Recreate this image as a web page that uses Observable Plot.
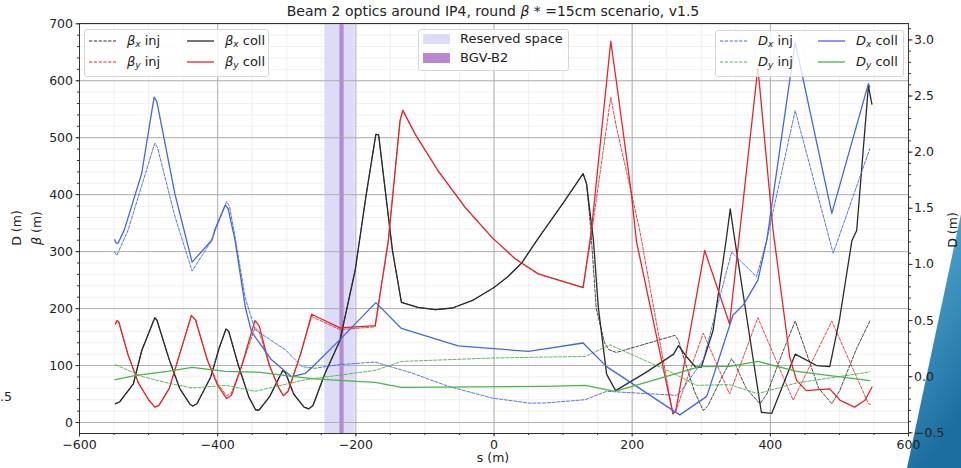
<!DOCTYPE html>
<html><head><meta charset="utf-8">
<script src="https://cdn.jsdelivr.net/npm/d3@7"></script>
<script src="https://cdn.jsdelivr.net/npm/@observablehq/plot@0.6"></script>
<style>
body{margin:0;background:#fff;font-family:"DejaVu Sans",sans-serif;color:#222;}
#wrap{position:relative;width:961px;height:468px;overflow:hidden;}
#deco{position:absolute;left:0;top:0;}
#chart{position:absolute;left:0;top:0;}
.t{position:absolute;font-size:13px;line-height:15px;white-space:nowrap;}
.rot{position:absolute;font-size:12.5px;line-height:14px;white-space:nowrap;transform-origin:center center;transform:translate(-50%,-50%) rotate(-90deg);}
.leg{position:absolute;background:rgba(255,255,255,0.8);border:1px solid #d6d6d6;border-radius:3px;box-sizing:border-box;}
sub{font-size:9px;vertical-align:-2px;line-height:0;}
</style></head>
<body><div id="wrap">
<svg id="deco" width="961" height="468"><defs><linearGradient id="g" x1="0" y1="0" x2="0.3" y2="1"><stop offset="0" stop-color="#5cb6da"/><stop offset="1" stop-color="#1d6ea0"/></linearGradient></defs><polygon points="961,214 961,468 907,468" fill="url(#g)"/></svg>
<div id="chart"></div>
</div>
<script>
// ---- data (s in m, beta in m, D in m) ----
const betaXColl = [[-548,33],[-542,36],[-522,68],[-510,126],[-491,184],[-488,180],[-470,110],[-455,60],[-440,32],[-436,29],[-430,33],[-410,80],[-398,130],[-388,164],[-384,160],[-370,100],[-355,45],[-345,22],[-340,22],[-325,45],[-306,91],[-302,88],[-290,50],[-275,27],[-268,24],[-262,30],[-245,85],[-223,144],[-201,267],[-185,400],[-171,506],[-167,505],[-147,302],[-134,211],[-110,202],[-85,198],[-60,201],[-30,215],[0,237],[20,256],[40,280],[65,325],[100,385],[129,437],[134,419],[144,319],[151,202],[163,85],[176,56],[220,88],[260,120],[267,135],[279,115],[292,97],[300,97],[317,161],[336,320],[342,375],[347,333],[387,18],[402,16],[436,120],[467,100],[486,98],[500,180],[518,319],[525,337],[542,591],[547,559]];
const betaXInjTail = [[134,419],[140,340],[148,200],[160,140],[166,128],[177,123],[262,153],[267,144],[279,97],[290,55],[303,21],[310,30],[330,80],[344,112],[350,100],[365,60],[385,33],[395,50],[420,130],[436,178],[450,130],[470,60],[489,33],[500,55],[525,130],[544,178]];
const betaYColl = [[-548,173],[-546,179],[-543,176],[-530,120],[-515,70],[-500,40],[-491,27],[-485,30],[-470,60],[-455,120],[-438,188],[-432,180],[-415,110],[-400,65],[-387,42],[-380,48],[-365,100],[-346,179],[-340,170],[-325,100],[-312,62],[-305,47],[-298,55],[-280,120],[-264,190],[-223,166],[-172,170],[-153,319],[-136,530],[-132,548],[-114,506],[-81,442],[-42,378],[-3,325],[30,288],[64,261],[129,237],[141,337],[169,669],[177,600],[199,401],[206,319],[259,15],[263,20],[305,302],[341,173],[382,623],[404,337],[428,115],[438,74],[452,56],[486,59],[501,39],[522,27],[537,39],[547,62]];
const betaYInj = [[-548,173],[-546,179],[-543,176],[-530,120],[-515,70],[-500,40],[-491,27],[-485,30],[-470,60],[-455,120],[-438,188],[-432,180],[-415,110],[-400,68],[-387,47],[-380,52],[-365,100],[-346,167],[-340,160],[-325,100],[-312,62],[-305,47],[-298,55],[-280,120],[-264,186],[-223,163],[-172,168],[-153,319],[-136,530],[-132,548],[-114,506],[-81,442],[-42,378],[-3,325],[30,288],[64,261],[129,237],[141,330],[169,571],[177,520],[211,337],[259,15],[263,20],[303,157],[341,50],[382,184],[433,39],[489,178],[542,33],[545,32]];
const dxColl = [[-549,1.22],[-547,1.19],[-544,1.19],[-535,1.31],[-510,1.81],[-492,2.49],[-488,2.45],[-462,1.63],[-437,1.02],[-408,1.22],[-404,1.31],[-389,1.53],[-385,1.50],[-375,1.22],[-360,0.62],[-351,0.40],[-322,0.15],[-293,0.0],[-273,0.03],[-264,0.08],[-223,0.33],[-171,0.66],[-134,0.43],[-52,0.275],[50,0.225],[129,0.30],[163,0.09],[264,-0.32],[269,-0.34],[308,-0.175],[346,0.55],[361,0.64],[382,0.86],[395,1.22],[436,2.98],[489,1.455],[542,2.61],[544,2.58]];
const dxInj = [[-549,1.11],[-546,1.08],[-530,1.3],[-510,1.7],[-491,2.08],[-487,2.04],[-462,1.43],[-437,0.94],[-410,1.2],[-387,1.56],[-383,1.52],[-375,1.25],[-360,0.7],[-346,0.42],[-317,0.30],[-302,0.24],[-278,0.09],[-259,0.075],[-225,0.107],[-172,0.13],[-119,0.033],[-66,-0.086],[-3,-0.19],[52,-0.236],[74,-0.234],[132,-0.205],[163,-0.13],[264,-0.166],[272,-0.12],[303,0.15],[344,1.11],[380,0.89],[395,1.22],[436,2.37],[491,1.10],[544,2.03]];
const dyColl = [[-548,-0.027],[-520,0.01],[-470,0.05],[-437,0.083],[-389,0.047],[-341,0.04],[-293,0.003],[-259,-0.02],[-225,-0.033],[-172,-0.05],[-134,-0.095],[74,-0.086],[132,-0.077],[175,-0.13],[250,0.003],[298,0.09],[341,0.092],[382,0.136],[438,0.047],[544,-0.035]];
const dyInj = [[-548,0.107],[-510,0.003],[-470,-0.06],[-437,-0.10],[-387,-0.077],[-346,-0.13],[-293,-0.056],[-273,-0.027],[-172,0.056],[-134,0.136],[-3,0.166],[74,0.175],[132,0.18],[168,0.284],[259,0.033],[293,-0.077],[341,-0.071],[382,-0.151],[438,-0.056],[544,0.042]];
const reserved = [[-245,-201]];
const bgv = [[-223,-217]];
const xTicks = [-600,-400,-200,0,200,400,600];
const betaTicks = [0,100,200,300,400,500,600,700];
const dTicks = [-0.5,0,0.5,1.0,1.5,2.0,2.5,3.0];
const titleText = 'Beam 2 optics around IP4, round <i>β</i> * =15cm scenario, v1.5';

const betaXInj = betaXColl.filter(d => d[0] < 134).concat(betaXInjTail);

// ---- scales for the twin axis ----
const yDom = [-19.3, 700.5];
const dDom = [-0.506, 3.146];
const toY = d => yDom[0] + (d - dDom[0]) / (dDom[1] - dDom[0]) * (yDom[1] - yDom[0]);
const fromY = y => dDom[0] + (y - yDom[0]) / (yDom[1] - yDom[0]) * (dDom[1] - dDom[0]);

const C = {k:"#2a2a2a", r:"#e2262c", b:"#4467d9", g:"#4cb34c"};
const dash = "3.2,1.6";
const xMinor = d3.range(-600, 601, 50);
const bMinor = d3.range(-0, 701, 20);
const dMinor = d3.range(-5, 32).map(i => i / 10);
const fmt1 = d3.format(".1f");

const L = (data, stroke, opts={}) => Plot.line(data, {x: d => d[0], y: d => d[1], stroke, strokeWidth: 1.3, ...opts});
const LD = (data, stroke, opts={}) => Plot.line(data, {x: d => d[0], y: d => toY(d[1]), stroke, strokeWidth: 1.3, ...opts});

const chart = Plot.plot({
  width: 961, height: 468,
  marginLeft: 79, marginRight: 53, marginTop: 23, marginBottom: 35,
  x: {domain: [-600, 600]},
  y: {domain: yDom},
  style: {fontFamily: "DejaVu Sans", fontSize: "12.5px", color: "#222", background: "transparent", overflow: "visible"},
  marks: [
    Plot.ruleX(xMinor, {stroke: "#ececec", strokeWidth: 0.8}),
    Plot.ruleY(bMinor, {stroke: "#ececec", strokeWidth: 0.8}),
    Plot.rect(reserved, {x1: d => d[0], x2: d => d[1], fill: "#dcdcf9"}),
    Plot.rect(bgv, {x1: d => d[0], x2: d => d[1], fill: "#b888d2"}),
    Plot.ruleX(xTicks, {stroke: "#a8a8a8", strokeWidth: 0.9}),
    Plot.ruleY(betaTicks, {stroke: "#a8a8a8", strokeWidth: 0.9}),
    L(betaXInj, C.k, {strokeDasharray: dash, strokeWidth: 1, strokeOpacity: 0.85}),
    L(betaYInj, C.r, {strokeDasharray: dash, strokeWidth: 1, strokeOpacity: 0.85}),
    L(betaXColl, C.k),
    L(betaYColl, C.r),
    LD(dxInj, C.b, {strokeDasharray: dash, strokeWidth: 1, strokeOpacity: 0.9}),
    LD(dyInj, C.g, {strokeDasharray: dash, strokeWidth: 1, strokeOpacity: 0.9}),
    LD(dxColl, C.b),
    LD(dyColl, C.g),
    Plot.frame({stroke: "#333", strokeWidth: 1}),
    Plot.axisX(xTicks, {tickSize: 3.5, tickPadding: 3, label: null, stroke: "#333"}),
    Plot.axisX(xMinor, {tickSize: 2, tickFormat: () => "", label: null, stroke: "#333"}),
    Plot.axisY(betaTicks, {tickSize: 3.5, tickPadding: 3, label: null, stroke: "#333"}),
    Plot.axisY(bMinor, {tickSize: 2, tickFormat: () => "", label: null, stroke: "#333"}),
    Plot.axisY(dTicks.map(toY), {anchor: "right", tickSize: 3.5, tickPadding: 2, label: null, stroke: "#333", tickFormat: y => fmt1(fromY(y))}),
    Plot.axisY(dMinor.map(toY), {anchor: "right", tickSize: 2, tickFormat: () => "", label: null, stroke: "#333"})
  ]
});
document.getElementById("chart").appendChild(chart);

// ---- text overlays ----
const wrap = document.getElementById("wrap");
function addEl(cls, html, style) {
  const e = document.createElement("div");
  e.className = cls; e.innerHTML = html; Object.assign(e.style, style); wrap.appendChild(e); return e;
}
addEl("t", titleText, {left: "493px", top: "3px", transform: "translateX(-50%)", fontSize: "14px", lineHeight: "16px"});
addEl("t", "s (m)", {left: "493px", top: "450px", transform: "translateX(-50%)", fontSize: "12.5px"});
addEl("rot", "D (m)", {left: "17px", top: "228px"});
addEl("rot", "<i>β</i> (m)", {left: "37px", top: "228px"});
addEl("rot", "D (m)", {left: "953px", top: "230px"});
addEl("t", ".5", {left: "0px", top: "389px", fontSize: "12.5px"});

// ---- legends ----
function legendBox(l, t, w, h) { addEl("leg", "", {left: l + "px", top: t + "px", width: w + "px", height: h + "px"}); }
function legLine(x, y, color, dashed, label) {
  const s = document.createElementNS("http://www.w3.org/2000/svg", "svg");
  s.setAttribute("width", 28); s.setAttribute("height", 4);
  s.style.position = "absolute"; s.style.left = x + "px"; s.style.top = (y - 2) + "px";
  s.innerHTML = `<line x1="0" x2="27" y1="2" y2="2" stroke="${color}" stroke-width="${dashed ? 1 : 1.3}" ${dashed ? `stroke-dasharray="${dash}"` : ""}/>`;
  wrap.appendChild(s);
  addEl("t", label, {left: (x + 38) + "px", top: (y - 8) + "px"});
}
function legPatch(x, y, color, label) {
  addEl("t", "", {left: x + "px", top: (y - 5) + "px", width: "27px", height: "10px", background: color});
  addEl("t", label, {left: (x + 37) + "px", top: (y - 8) + "px"});
}
const sym = (a, b) => `<i>${a}</i><sub><i>${b}</i></sub>`;
legendBox(84, 29, 185, 48);
legLine(89, 41, C.k, true, sym("β", "x") + " inj");
legLine(187, 41, C.k, false, sym("β", "x") + " coll");
legLine(89, 62, C.r, true, sym("β", "y") + " inj");
legLine(187, 62, C.r, false, sym("β", "y") + " coll");
legendBox(418, 29, 151, 42);
legPatch(423, 39, "#dcdcf9", "Reserved space");
legPatch(423, 58, "#b888d2", "BGV-B2");
legendBox(715, 30, 189, 47);
legLine(720, 41, C.b, true, sym("D", "x") + " inj");
legLine(818, 41, C.b, false, sym("D", "x") + " coll");
legLine(720, 62, C.g, true, sym("D", "y") + " inj");
legLine(818, 62, C.g, false, sym("D", "y") + " coll");
</script>
</body></html>
